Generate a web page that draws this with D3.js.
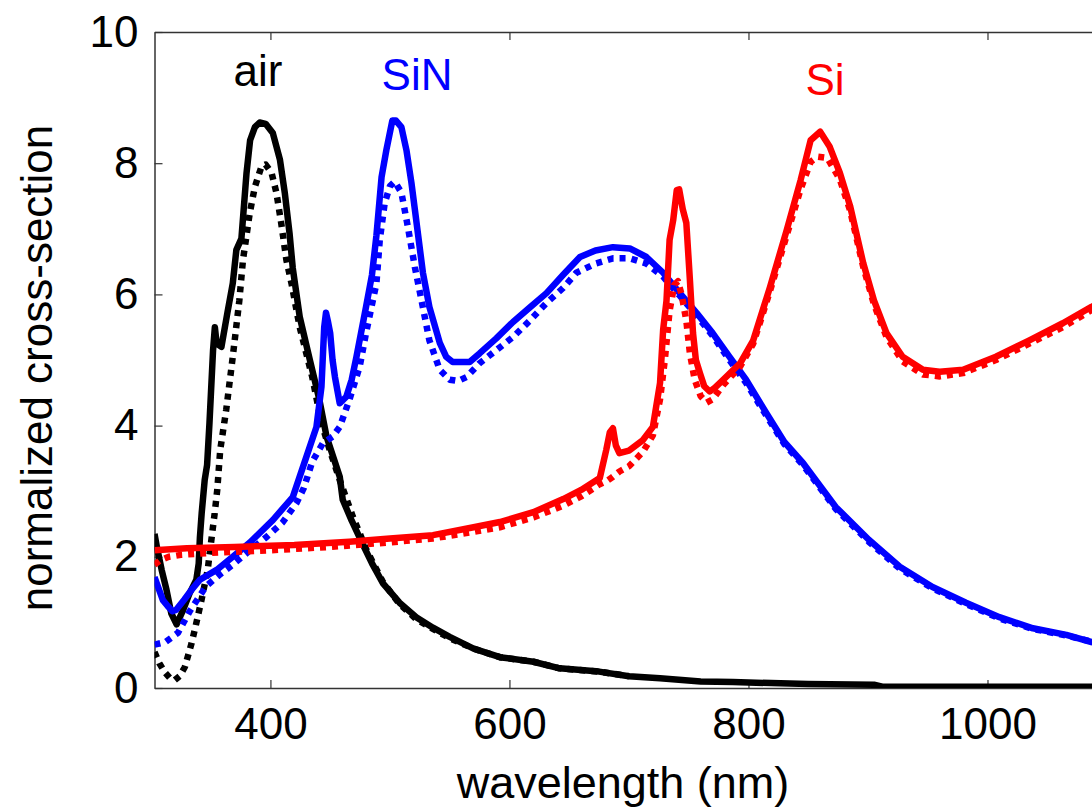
<!DOCTYPE html>
<html>
<head>
<meta charset="utf-8">
<script src="https://cdn.jsdelivr.net/npm/d3@7"></script>
<style>
  body { margin: 0; background: #fff; }
  svg { display: block; font-family: "Liberation Sans", Arial, sans-serif; }
</style>
</head>
<body>
<div class="chart"></div>
<script>
// Each series is a list of [wavelength (nm), normalized cross-section] pairs,
// read off the reference figure.
let airSolid = [
  [303, 2.35], [305, 2.15], [309, 1.8], [313, 1.5], [317, 1.14], [321.5, 0.97],
  [327, 1.19], [332.5, 1.45], [338, 1.65], [340, 1.9], [341, 2.3], [342.5, 2.67],
  [345, 3.17], [347, 3.4], [349, 4.04], [352, 5.15], [353.5, 5.5], [355, 5.25],
  [359, 5.2], [364, 5.72], [368.5, 6.17], [371.5, 6.68], [375.7, 6.85], [380, 7.85],
  [383, 8.35], [387, 8.55], [391, 8.62], [396, 8.6], [402, 8.46], [408, 8.05],
  [412, 7.55], [416, 6.93], [418.7, 6.4], [424.5, 5.66], [433, 5.0], [441, 4.39],
  [447, 3.83], [453, 3.5], [458, 3.22], [460.5, 2.87], [468, 2.55], [477, 2.2],
  [485, 1.9], [494, 1.6], [508, 1.3], [522, 1.08], [536, 0.92], [550, 0.78],
  [570, 0.6], [592, 0.47], [620, 0.4], [642, 0.3], [675, 0.25], [700, 0.18],
  [726, 0.15], [760, 0.1], [787, 0.09], [850, 0.06], [905, 0.05], [912, 0.02],
  [1000, 0.02], [1100, 0.02]
];

let airDotted = [
  [303, 0.55], [307, 0.38], [311.6, 0.24], [316, 0.15], [320, 0.12], [324, 0.18],
  [328.4, 0.32], [334, 0.68], [338, 0.99], [342.3, 1.34], [347.5, 1.8], [350.6, 2.26],
  [353.4, 2.67], [355.5, 3.02], [358, 3.63], [363, 4.24], [368.5, 5.05], [374, 5.91],
  [377, 6.52], [382.7, 7.24], [387, 7.64], [392.5, 7.95], [396, 7.98], [401, 7.85],
  [405, 7.55], [409, 7.09], [413.4, 6.52], [417.6, 6.17], [424.5, 5.5], [435, 4.74],
  [442.7, 4.04], [449.6, 3.63], [458, 3.17], [469, 2.61], [480.5, 2.1], [494, 1.62],
  [508, 1.28], [522, 1.05], [536, 0.9], [550, 0.76], [570, 0.6], [592, 0.47],
  [620, 0.4], [642, 0.3], [675, 0.25], [700, 0.18]
];

let sinSolid = [
  [303, 1.69], [310, 1.34], [314, 1.25], [318, 1.17], [321, 1.19], [328, 1.35],
  [335, 1.52], [341, 1.65], [355, 1.8], [368.5, 2.0], [383, 2.22], [402, 2.56],
  [418.7, 2.91], [430, 3.52], [438.5, 3.98], [442.7, 4.59], [445, 5.5], [446.5, 5.72],
  [448, 5.6], [450, 5.41], [452, 5.0], [454, 4.74], [458, 4.34], [463.5, 4.44],
  [468, 4.7], [472, 5.05], [480, 5.81], [485, 6.3], [488.7, 6.9], [493, 7.79],
  [497, 8.2], [502, 8.65], [505, 8.65], [509.6, 8.55], [513.8, 8.2], [518, 7.7],
  [522, 7.13], [527.6, 6.33], [533, 5.81], [541.7, 5.26], [547, 5.05], [552.5, 4.97],
  [566.7, 4.97], [575, 5.1], [589, 5.33], [603, 5.58], [617, 5.8], [631, 6.02],
  [645, 6.3], [659, 6.57], [672, 6.67], [686.6, 6.72], [700.7, 6.7], [714.6, 6.57],
  [728.6, 6.33], [742.5, 6.02], [756.5, 5.72], [770, 5.41], [784, 5.05], [798, 4.7],
  [815, 4.19], [830, 3.75], [845.6, 3.43], [873, 2.76], [900.7, 2.26], [926.6, 1.85],
  [954, 1.54], [982, 1.3], [1010, 1.08], [1038, 0.91], [1066, 0.81], [1087, 0.7],
  [1100, 0.66]
];

let sinDotted = [
  [303, 0.66], [312, 0.7], [322.6, 0.84], [332.5, 1.17], [346, 1.55], [357, 1.72],
  [368.5, 1.88], [383, 2.1], [396.6, 2.3], [410, 2.52], [421.8, 2.82], [428, 3.05],
  [435, 3.45], [443.8, 3.73], [452, 3.83], [458, 3.98], [466, 4.39], [474.7, 4.9],
  [480, 5.41], [488.7, 6.17], [491.5, 6.83], [495.6, 7.39], [500, 7.65], [504, 7.72],
  [509.6, 7.55], [515, 7.03], [520.8, 6.42], [526.4, 5.91], [533, 5.3], [541.7, 4.85],
  [550, 4.7], [557, 4.68], [564, 4.74], [575, 4.95], [589, 5.15], [603, 5.35],
  [617, 5.6], [631, 5.87], [645, 6.1], [656, 6.33], [672, 6.47], [686.6, 6.55],
  [700.7, 6.55], [714.6, 6.47], [728.6, 6.27], [742.5, 5.98], [756.5, 5.68], [770, 5.37],
  [784, 5.0], [798, 4.65], [815, 4.15], [830, 3.72], [845.6, 3.4], [873, 2.73],
  [900.7, 2.23], [926.6, 1.82], [954, 1.52], [982, 1.28], [1010, 1.06], [1038, 0.9],
  [1066, 0.8], [1100, 0.65]
];

let siSolid = [
  [303, 2.1], [330, 2.13], [370, 2.15], [420, 2.18], [466, 2.23], [500, 2.28],
  [536, 2.33], [570, 2.45], [592, 2.53], [620, 2.68], [645, 2.88], [660, 3.02],
  [675.6, 3.2], [681, 3.63], [684, 3.9], [686.6, 3.96], [689, 3.7], [692, 3.58],
  [700, 3.62], [711.7, 3.78], [720, 3.98], [726, 4.65], [728.6, 5.46], [731.4, 5.9],
  [734, 6.83], [737, 7.13], [740, 7.59], [742, 7.6], [745, 7.3], [748, 7.09],
  [751, 6.22], [753.6, 5.41], [756, 5.0], [759.4, 4.8], [763, 4.6], [767.6, 4.52],
  [772, 4.58], [779, 4.7], [793, 4.95], [804, 5.3], [818, 6.11], [832, 6.98],
  [843.6, 7.74], [852, 8.35], [860, 8.48], [868, 8.25], [876.5, 7.85], [885, 7.35],
  [896, 6.48], [905, 5.91], [915.5, 5.41], [929, 5.05], [946, 4.85], [960, 4.82],
  [979.6, 4.85], [1007, 5.05], [1035, 5.3], [1063, 5.56], [1087, 5.81], [1100, 5.92]
];

let siDotted = [
  [303, 1.88], [308, 1.95], [315, 2.0], [325, 2.03], [350, 2.06], [400, 2.1],
  [450, 2.15], [500, 2.22], [536, 2.28], [570, 2.38], [592, 2.45], [620, 2.6],
  [645, 2.78], [660, 2.92], [675, 3.1], [681, 3.15], [686.6, 3.22], [692, 3.3],
  [700, 3.38], [711.7, 3.6], [720, 3.85], [726, 4.4], [730, 5.0], [734, 5.75],
  [738, 6.15], [741, 6.2], [744, 6.0], [748, 5.6], [751, 5.1], [755, 4.7],
  [760, 4.45], [765, 4.35], [770, 4.4], [779, 4.62], [793, 4.9], [804, 5.25],
  [818, 6.05], [832, 6.9], [843.6, 7.6], [852, 8.02], [858, 8.1], [866, 8.08],
  [876.5, 7.75], [885, 7.28], [896, 6.42], [905, 5.85], [915.5, 5.35], [929, 4.98],
  [946, 4.78], [960, 4.75], [979.6, 4.8], [1007, 5.0], [1035, 5.25], [1063, 5.5],
  [1087, 5.76], [1100, 5.87]
];

let xTicks = [400, 600, 800, 1000];
let yTicks = [0, 2, 4, 6, 8, 10];

let labels = ["air", "SiN", "Si"];
let labelX = [258, 417, 825];     // label positions in px
let labelY = [86, 90, 95];

let width = 1092;
let height = 807;

// Plot frame: the figure is cropped on the right, so the x range runs past the edge
let frame = { left: 154.5, top: 32, bottom: 688, right: 1107 };

let svg = d3.select(".chart")
  .append("svg")
  .attr("width", width)
  .attr("height", height);

let x = d3.scaleLinear()
  .domain([303, 1100])
  .range([frame.left, frame.right]);

let y = d3.scaleLinear()
  .domain([0, 10])
  .range([frame.bottom, frame.top]);

svg.append("clipPath")
  .attr("id", "plot-clip")
  .append("rect")
  .attr("x", frame.left)
  .attr("y", frame.top)
  .attr("width", frame.right - frame.left)
  .attr("height", frame.bottom - frame.top);

// Axes, ticks pointing inward like the MATLAB original
let axisColor = "#333";

let yAxis = svg.append("g")
  .attr("transform", "translate(" + frame.left + ",0)")
  .call(d3.axisLeft(y).tickValues(yTicks).tickSizeInner(-8).tickSizeOuter(0).tickPadding(16));

let xAxis = svg.append("g")
  .attr("transform", "translate(0," + frame.bottom + ")")
  .call(d3.axisBottom(x).tickValues(xTicks).tickFormat(d3.format("d"))
    .tickSizeInner(-8).tickSizeOuter(0).tickPadding(20));

let topAxis = svg.append("g")
  .attr("transform", "translate(0," + frame.top + ")")
  .call(d3.axisTop(x).tickValues(xTicks).tickSizeInner(-8).tickSizeOuter(0).tickFormat(""));

[yAxis, xAxis, topAxis].forEach(g => {
  g.select(".domain").attr("stroke", axisColor).attr("stroke-width", 1.5);
  g.selectAll(".tick line").attr("stroke", axisColor).attr("stroke-width", 1.2);
  g.selectAll(".tick text")
    .attr("fill", "#000")
    .style("font-size", "44px")
    .style("font-family", "\"Liberation Sans\", Arial, sans-serif");
});

// Curves
let line = d3.line()
  .x(d => x(d[0]))
  .y(d => y(d[1]));

let series = [
  { data: airSolid, color: "#000000", dash: null },
  { data: airDotted, color: "#000000", dash: "6 6" },
  { data: sinSolid, color: "#0000ff", dash: null },
  { data: sinDotted, color: "#0000ff", dash: "6 6" },
  { data: siSolid, color: "#ff0000", dash: null },
  { data: siDotted, color: "#ff0000", dash: "6 6" }
];

let curves = svg.append("g").attr("clip-path", "url(#plot-clip)");

curves.selectAll("path")
  .data(series)
  .enter()
  .append("path")
  .attr("d", d => line(d.data))
  .attr("fill", "none")
  .attr("stroke", d => d.color)
  .attr("stroke-width", 6.5)
  .attr("stroke-linejoin", "round")
  .attr("stroke-dasharray", d => d.dash);

// Curve labels
let labelColors = ["#000000", "#0000ff", "#ff0000"];
svg.append("g")
  .selectAll("text")
  .data(labels)
  .enter()
  .append("text")
  .attr("x", (d, i) => labelX[i])
  .attr("y", (d, i) => labelY[i])
  .attr("text-anchor", "middle")
  .attr("fill", (d, i) => labelColors[i])
  .style("font-size", "44px")
  .text(d => d);

// Axis titles
svg.append("text")
  .attr("x", 623)
  .attr("y", 798)
  .attr("text-anchor", "middle")
  .style("font-size", "45px")
  .text("wavelength (nm)");

svg.append("text")
  .attr("transform", "translate(52,368) rotate(-90)")
  .attr("text-anchor", "middle")
  .style("font-size", "44px")
  .text("normalized cross-section");
</script>
</body>
</html>
